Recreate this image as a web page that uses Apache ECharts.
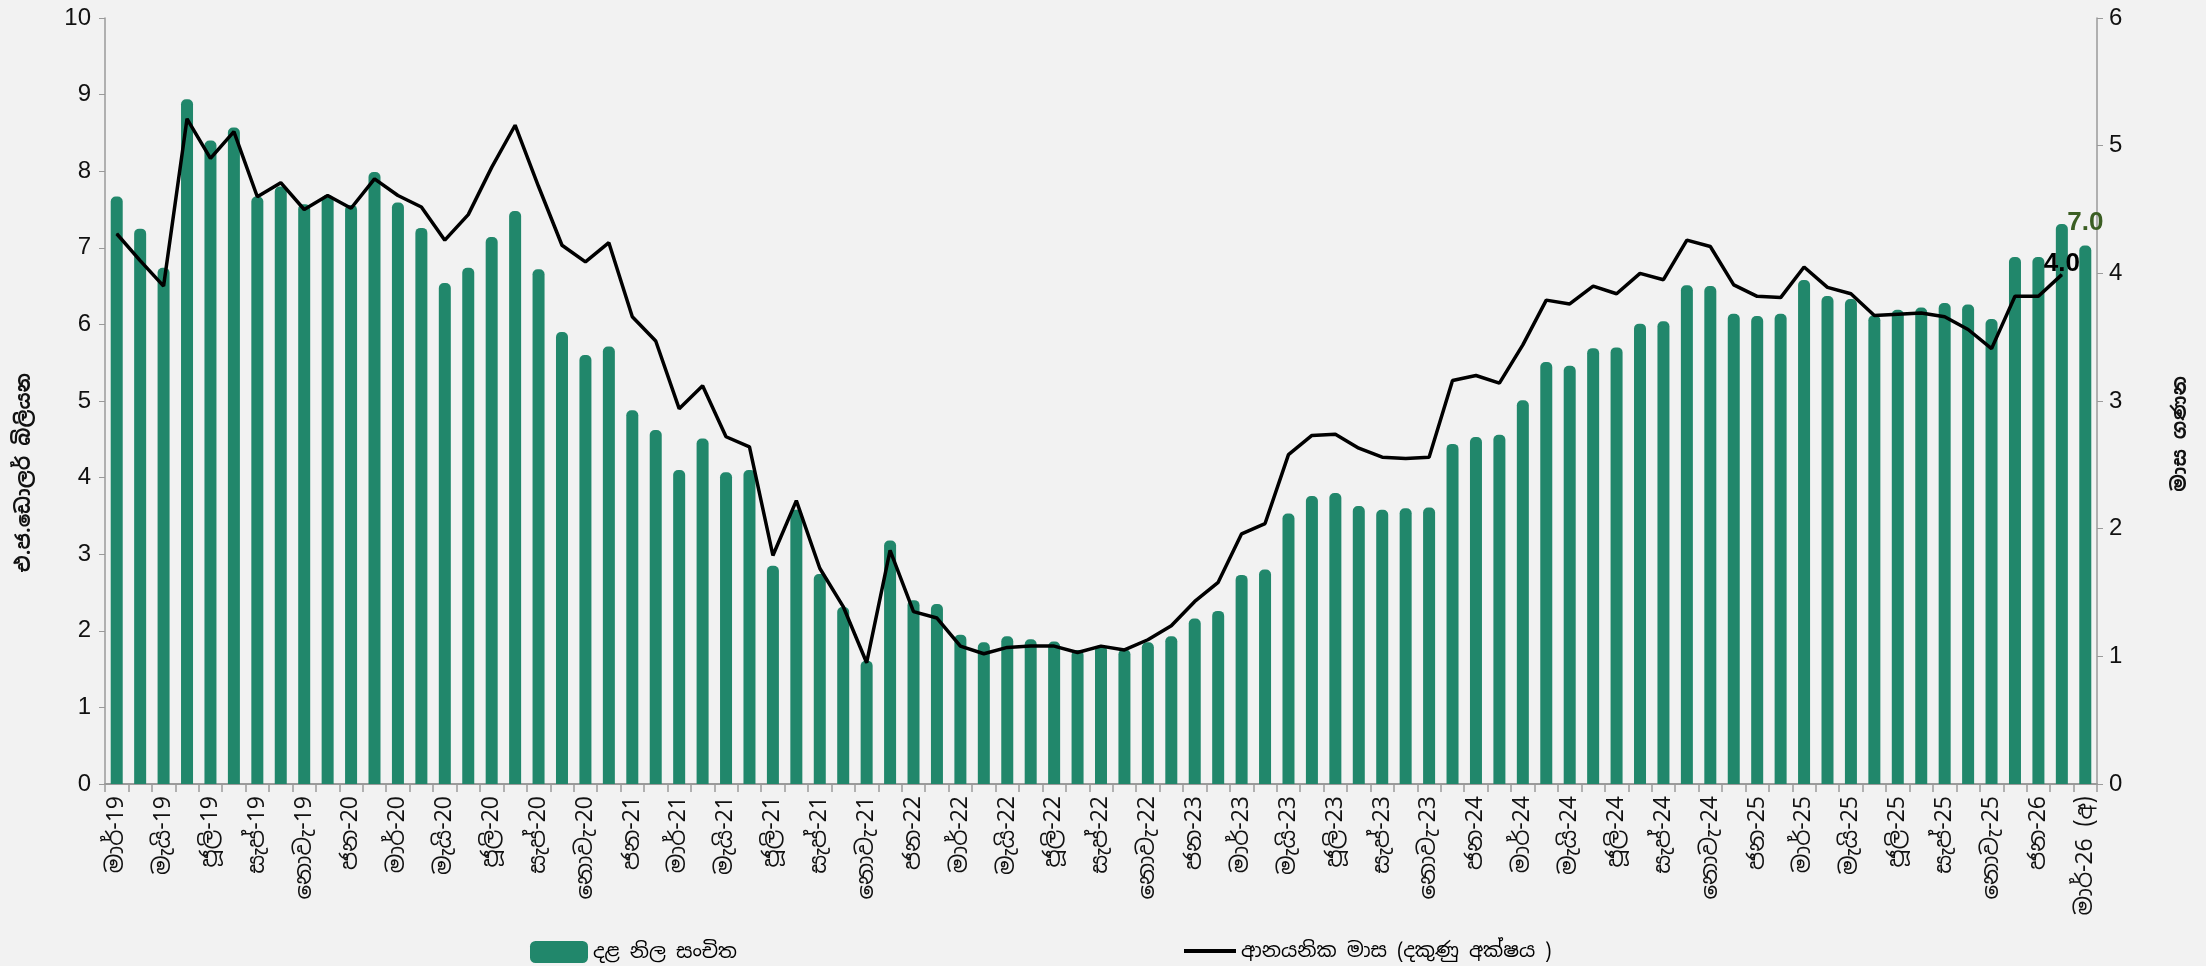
<!DOCTYPE html>
<html>
<head>
<meta charset="utf-8">
<script src="https://cdn.jsdelivr.net/npm/echarts@6/dist/echarts.min.js"></script>
<style>
html,body{margin:0;padding:0;background:#f2f2f2;}
#chart{width:2206px;height:966px;}
</style>
</head>
<body>
<div id="chart"></div>
<script>
const categories = [
 'මාර්-19','අප්‍රේ-19','මැයි-19','ජූනි-19','ජූලි-19','අගෝ-19','සැප්-19','ඔක්-19','නොවැ-19','දෙසැ-19',
 'ජන-20','පෙබ-20','මාර්-20','අප්‍රේ-20','මැයි-20','ජූනි-20','ජූලි-20','අගෝ-20','සැප්-20','ඔක්-20','නොවැ-20','දෙසැ-20',
 'ජන-21','පෙබ-21','මාර්-21','අප්‍රේ-21','මැයි-21','ජූනි-21','ජූලි-21','අගෝ-21','සැප්-21','ඔක්-21','නොවැ-21','දෙසැ-21',
 'ජන-22','පෙබ-22','මාර්-22','අප්‍රේ-22','මැයි-22','ජූනි-22','ජූලි-22','අගෝ-22','සැප්-22','ඔක්-22','නොවැ-22','දෙසැ-22',
 'ජන-23','පෙබ-23','මාර්-23','අප්‍රේ-23','මැයි-23','ජූනි-23','ජූලි-23','අගෝ-23','සැප්-23','ඔක්-23','නොවැ-23','දෙසැ-23',
 'ජන-24','පෙබ-24','මාර්-24','අප්‍රේ-24','මැයි-24','ජූනි-24','ජූලි-24','අගෝ-24','සැප්-24','ඔක්-24','නොවැ-24','දෙසැ-24',
 'ජන-25','පෙබ-25','මාර්-25','අප්‍රේ-25','මැයි-25','ජූනි-25','ජූලි-25','අගෝ-25','සැප්-25','ඔක්-25','නොවැ-25','දෙසැ-25',
 'ජන-26','පෙබ-26','මාර්-26 (අ)'
];
// Gross official reserves (US$ bn)
const reserves = [
 7.67,7.25,6.74,8.94,8.40,8.57,7.67,7.80,7.57,7.69,
 7.56,7.99,7.59,7.26,6.54,6.74,7.14,7.48,6.72,5.90,5.60,5.71,
 4.88,4.62,4.10,4.51,4.07,4.10,2.85,3.58,2.74,2.31,1.61,3.18,
 2.40,2.35,1.95,1.85,1.93,1.89,1.86,1.75,1.81,1.76,1.85,1.93,
 2.16,2.26,2.73,2.80,3.53,3.76,3.80,3.63,3.58,3.60,3.61,4.44,
 4.53,4.56,5.01,5.51,5.46,5.69,5.70,6.01,6.04,6.51,6.50,6.14,
 6.11,6.14,6.58,6.37,6.33,6.12,6.19,6.22,6.28,6.26,6.07,6.88,
 6.88,7.31,7.03
];
// Import months (right axis)
const importMonths = [
 4.31,4.10,3.90,5.21,4.90,5.11,4.60,4.71,4.50,4.61,
 4.51,4.74,4.61,4.52,4.26,4.46,4.83,5.16,4.68,4.22,4.09,4.24,
 3.66,3.47,2.94,3.12,2.72,2.64,1.79,2.22,1.69,1.39,0.95,1.83,
 1.35,1.30,1.08,1.02,1.07,1.08,1.08,1.03,1.08,1.05,1.13,1.24,
 1.43,1.58,1.96,2.04,2.58,2.73,2.74,2.63,2.56,2.55,2.56,3.16,
 3.20,3.14,3.44,3.79,3.76,3.90,3.84,4.00,3.95,4.26,4.21,3.91,
 3.82,3.81,4.05,3.89,3.84,3.67,3.68,3.69,3.66,3.56,3.41,3.82,
 3.82,3.99,null
];
const leftTicks = {min:0, max:10, interval:1};
const rightTicks = {min:0, max:6, interval:1};
const barName = 'දළ නිල සංචිත';
const lineName = 'ආනයනික මාස (දකුණු අක්ෂය )';
const leftAxisName = 'එ.ජ.ඩොලර් බිලියන';
const rightAxisName = 'මාස ගණන';

const numFont = '"Liberation Sans Narrow","Liberation Sans",Arial,sans-serif';
const sinFont = '"Noto Sans Sinhala","Iskoola Pota","Noto Sans","DejaVu Sans",sans-serif';

const lastBar = reserves.length - 1;
let lastLine = importMonths.length - 1;
while (importMonths[lastLine] == null) lastLine--;

const barData = reserves.map((v,i)=> i===lastBar ? {value:v, label:{show:true}} : v);
const lineData = importMonths.map((v,i)=> i===lastLine ? {value:v, label:{show:true}} : v);

const chart = echarts.init(document.getElementById('chart'), null, {renderer:'canvas'});
chart.setOption({
  backgroundColor:'#f2f2f2',
  animation:false,
  grid:{left:105, right:109, top:18, bottom:182, containLabel:false},
  legend:[
    {data:[barName], left:525, top:936, itemWidth:58, itemHeight:22, itemGap:4,
     itemStyle:{borderRadius:4},
     textStyle:{fontFamily:sinFont, fontSize:20, color:'#000'}},
    {data:[{name:lineName, icon:'rect'}], left:1179, top:936, itemWidth:52, itemHeight:4,
     itemStyle:{color:'#000'},
     textStyle:{fontFamily:sinFont, fontSize:20, color:'#000'}}
  ],
  graphic:[
    {type:'text', left:14, top:373, rotation:Math.PI/2,
     style:{text:leftAxisName, font:'bold 20px '+sinFont, fill:'#111'}},
    {type:'text', left:2170, top:376, rotation:Math.PI/2,
     style:{text:rightAxisName, font:'bold 20px '+sinFont, fill:'#111'}}
  ],
  xAxis:{
    type:'category', data:categories, boundaryGap:true,
    axisLine:{lineStyle:{color:'#9a9a9a', width:2}},
    axisTick:{show:true, interval:0, length:8, lineStyle:{color:'#9a9a9a', width:1.5}},
    axisLabel:{interval:1, rotate:90, fontFamily:sinFont, fontSize:23, color:'#111', margin:12}
  },
  yAxis:[
    {type:'value', min:leftTicks.min, max:leftTicks.max, interval:leftTicks.interval,
     splitLine:{show:false},
     axisLine:{show:true, lineStyle:{color:'#9a9a9a', width:1.5}},
     axisTick:{show:true, length:6, lineStyle:{color:'#9a9a9a'}},
     axisLabel:{fontFamily:numFont, fontSize:24, color:'#111', margin:14}},
    {type:'value', min:rightTicks.min, max:rightTicks.max, interval:rightTicks.interval,
     position:'right', splitLine:{show:false},
     axisLine:{show:true, lineStyle:{color:'#9a9a9a', width:1.5}},
     axisTick:{show:true, length:6, lineStyle:{color:'#9a9a9a'}},
     axisLabel:{fontFamily:numFont, fontSize:24, color:'#111', margin:12}}
  ],
  series:[
    {name:barName, type:'bar', yAxisIndex:0, data:barData, barWidth:12,
     itemStyle:{color:'#21876b', borderRadius:[5,5,0,0]},
     label:{show:false, position:'top', distance:10, fontFamily:numFont, fontWeight:'bold',
            fontSize:26, color:'#3b5e23', formatter:p=>Number(p.value).toFixed(1)}},
    {name:lineName, type:'line', yAxisIndex:1, data:lineData,
     symbol:'circle', symbolSize:1, showSymbol:true,
     lineStyle:{color:'#000', width:3.5}, itemStyle:{color:'#000'},
     labelLayout:{hideOverlap:false},
     label:{show:false, position:'top', distance:-3, fontFamily:numFont, fontWeight:'bold',
            fontSize:26, color:'#000', formatter:p=>Number(p.value).toFixed(1)}}
  ]
});
</script>
</body>
</html>
